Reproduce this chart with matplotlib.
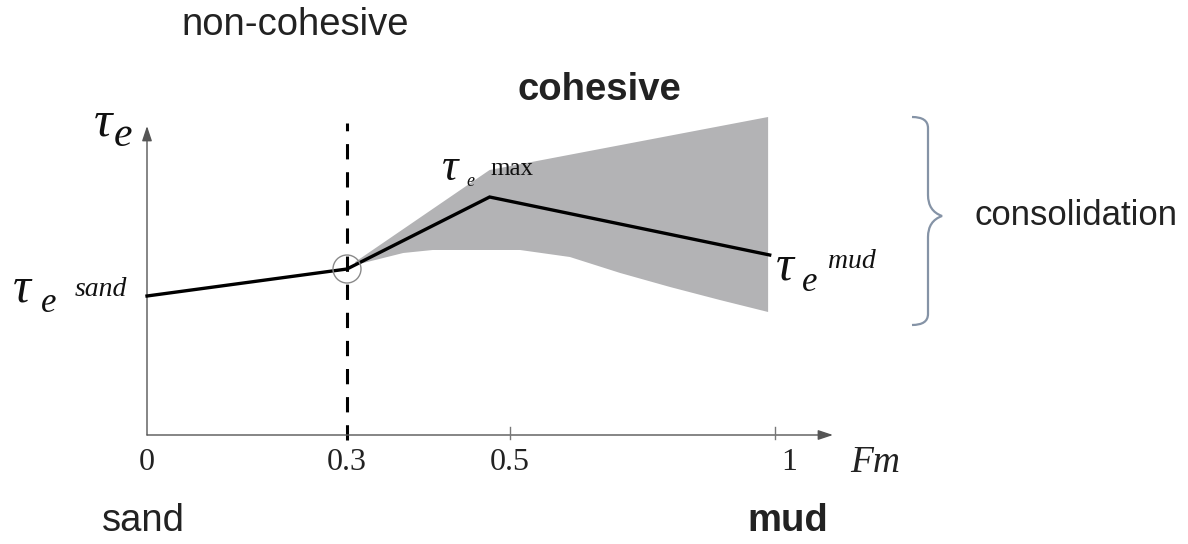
import numpy as np
import matplotlib
matplotlib.use("Agg")
import matplotlib.pyplot as plt
from matplotlib.patches import Circle, PathPatch
from matplotlib.path import Path

# ---- data (schematic values) ----
fm_ticks = [0, 0.3, 0.5, 1]
fm_tick_labels = ["0", "0.3", "0.5", "1"]

line_fm = [0.0, 0.3, 0.475, 0.99]
line_tau = [1.39, 1.66, 2.38, 1.80]

band_upper_fm = [0.31, 0.475, 0.987]
band_upper_tau = [1.73, 2.65, 3.18]
band_lower_fm = [0.31, 0.369, 0.405, 0.519, 0.613, 0.708, 0.802, 0.896, 0.987]
band_lower_tau = [1.70, 1.82, 1.85, 1.85, 1.78, 1.62, 1.48, 1.35, 1.23]

threshold_fm = 0.3

# ---- schematic (piecewise-linear) x scale ----
_src = np.array([0.0, 0.3, 0.5, 1.0])
_dst = np.array([147.0, 347.0, 510.0, 775.0])
_s_lo = (_dst[1] - _dst[0]) / (_src[1] - _src[0])
_s_hi = (_dst[-1] - _dst[-2]) / (_src[-1] - _src[-2])


def fwd(x):
    x = np.asarray(x, dtype=float)
    y = np.interp(x, _src, _dst)
    y = np.where(x < _src[0], _dst[0] + (x - _src[0]) * _s_lo, y)
    y = np.where(x > _src[-1], _dst[-1] + (x - _src[-1]) * _s_hi, y)
    return y


def inv(y):
    y = np.asarray(y, dtype=float)
    x = np.interp(y, _dst, _src)
    x = np.where(y < _dst[0], _src[0] + (y - _dst[0]) / _s_lo, x)
    x = np.where(y > _dst[-1], _src[-1] + (y - _dst[-1]) / _s_hi, x)
    return x


W, H = 1188, 544
fig = plt.figure(figsize=(W / 100, H / 100), dpi=100)
ax = fig.add_axes([0, 0, 1, 1])
ax.set_xscale("function", functions=(fwd, inv))
ax.set_xlim(float(inv(0)), float(inv(W)))
ax.set_ylim(-(H - 435) / 100, 435 / 100)
ax.axis("off")

serif = "Liberation Serif"
sans = "Liberation Sans"

# gray band (polygon: upper edge then lower edge reversed)
poly_x = list(band_upper_fm) + list(band_lower_fm[::-1])
poly_y = list(band_upper_tau) + list(band_lower_tau[::-1])
ax.fill(poly_x, poly_y, color="#b3b3b5", lw=0, zorder=1)

# dashed threshold line
ax.plot([threshold_fm, threshold_fm], [-0.05, 3.12], color="black", lw=2.2,
        dashes=(5, 4.2), zorder=2)

# main line
ax.plot(line_fm, line_tau, color="black", lw=2.4, solid_joinstyle="miter", zorder=3)

# circle around threshold point
px, py = ax.transData.transform((line_fm[1], line_tau[1]))
circ = Circle((px, py), 14, transform=None, fill=False, ec="#8a8a8a", lw=1.0, zorder=4)
ax.add_artist(circ)

# axes arrows
arrow_kw = dict(arrowstyle="-|>,head_length=0.9,head_width=0.3",
                color="#555555", lw=1.0, shrinkA=0, shrinkB=0)
ax.annotate("", xy=(inv(833), 0), xytext=(0, 0), arrowprops=arrow_kw, zorder=2)
ax.annotate("", xy=(0, 4.35 - 1.26), xytext=(0, 0), arrowprops=arrow_kw, zorder=2)

# small tick marks
for t in fm_ticks[2:]:
    ax.plot([t, t], [-0.04, 0.08], color="#777777", lw=1.0)

# tick labels
tick_x = [147, 347, 510, 789]
for xp, lab in zip(tick_x, fm_tick_labels):
    fig.text(xp / W, 1 - 463 / H, lab, ha="center", va="center", fontsize=23,
             family=serif, color="#222222")

fig.text(875 / W, 1 - 463 / H, "Fm", ha="center", va="center", fontsize=27,
         family=serif, style="italic", color="#222222")

# category labels
txt = dict(ha="center", va="center", color="#222222")
fig.text(295 / W, 1 - 25 / H, "non-cohesive", fontsize=27.5, family=sans, **txt)
fig.text(599 / W, 1 - 90 / H, "cohesive", fontsize=27.5, family=sans,
         weight="bold", **txt)
fig.text(1076 / W, 1 - 216 / H, "consolidation", fontsize=25, family=sans, **txt)
fig.text(143 / W, 1 - 521 / H, "sand", fontsize=27.5, family=sans, **txt)
fig.text(788 / W, 1 - 521 / H, "mud", fontsize=27.5, family=sans, weight="bold", **txt)


def put(xp, yp, s, size, style="italic"):
    fig.text(xp / W, 1 - yp / H, s, fontsize=size, family=serif, style=style,
             ha="left", va="baseline", color="#111111")


# tau_e (axis label)
put(94, 135, "τ", 37)
put(114, 146, "e", 30)
# tau_e sand
put(13, 301, "τ", 36)
put(41, 312, "e", 25)
put(75, 296, "sand", 20)
# tau_e mud
put(776, 280, "τ", 36)
put(802, 291, "e", 25)
put(828, 268, "mud", 20)
# tau_e max
put(442, 180, "τ", 33)
put(466, 186, "e", 13)
put(490, 175, "max", 18, style="normal")

# brace
bx = 912
verts = [
    (bx, 117), (bx + 16, 117), (bx + 16, 128), (bx + 16, 140),
    (bx + 16, 195), (bx + 16, 211), (bx + 30, 216),
    (bx + 16, 221), (bx + 16, 237),
    (bx + 16, 300), (bx + 16, 314), (bx + 16, 325), (bx, 325),
]
codes = [Path.MOVETO, Path.CURVE3, Path.CURVE3, Path.LINETO,
         Path.LINETO, Path.CURVE3, Path.CURVE3,
         Path.CURVE3, Path.CURVE3,
         Path.LINETO, Path.LINETO, Path.CURVE3, Path.CURVE3]
verts = [(x, H - y) for x, y in verts]
fig.add_artist(PathPatch(Path(verts, codes), transform=None, fill=False,
                         ec="#8593a6", lw=1.6))

fig.savefig("out.png", dpi=100, facecolor="white")
